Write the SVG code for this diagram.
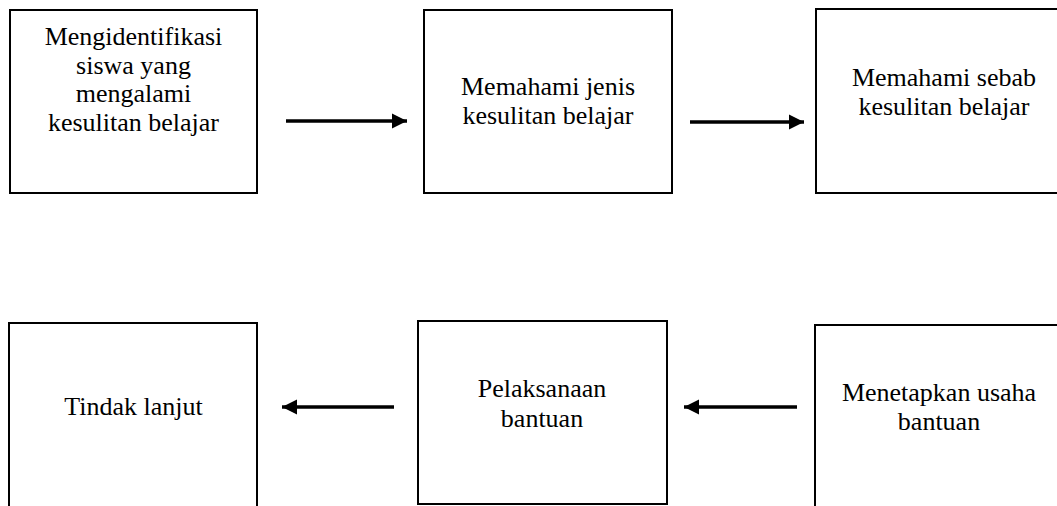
<svg xmlns="http://www.w3.org/2000/svg" width="1057" height="506" viewBox="0 0 1057 506">
<style>
.box{fill:#fff;stroke:#000;stroke-width:2}
text{font-family:'Liberation Serif','Times New Roman','DejaVu Serif',serif;font-size:26px;fill:#000;text-anchor:middle}
.c{stroke:#000;stroke-width:3.5;fill:none}
</style>
<defs>
<marker id="ah" markerUnits="userSpaceOnUse" markerWidth="16" markerHeight="16" viewBox="0 0 16 16" refX="15" refY="8" orient="auto">
<polygon points="0,0.5 15,8 0,15.5" fill="#000"/>
</marker>
</defs>
<rect width="1057" height="506" fill="#fff"/>
<g id="n1"><rect class="box" x="10" y="10" width="247" height="183"/>
<text x="133.5" y="45" font-family="Liberation Serif, serif">Mengidentifikasi</text>
<text x="133.5" y="74" font-family="Liberation Serif, serif">siswa yang</text>
<text x="133.5" y="102" font-family="Liberation Serif, serif">mengalami</text>
<text x="133.5" y="131" font-family="Liberation Serif, serif">kesulitan belajar</text></g>
<g id="n2"><rect class="box" x="424" y="10" width="248" height="183"/>
<text x="548" y="95" font-family="Liberation Serif, serif">Memahami jenis</text>
<text x="548" y="124" font-family="Liberation Serif, serif">kesulitan belajar</text></g>
<g id="n3"><rect class="box" x="816" y="9" width="260" height="184"/>
<text x="944" y="86" font-family="Liberation Serif, serif">Memahami sebab</text>
<text x="944" y="115" font-family="Liberation Serif, serif">kesulitan belajar</text></g>
<g id="n4"><rect class="box" x="9" y="323" width="248" height="200"/>
<text x="133.5" y="415" font-family="Liberation Serif, serif">Tindak lanjut</text></g>
<g id="n5"><rect class="box" x="418" y="321" width="249" height="183"/>
<text x="542" y="397" font-family="Liberation Serif, serif">Pelaksanaan</text>
<text x="542" y="427" font-family="Liberation Serif, serif">bantuan</text></g>
<g id="n6"><rect class="box" x="815" y="325" width="260" height="200"/>
<text x="939" y="401" font-family="Liberation Serif, serif">Menetapkan usaha</text>
<text x="939" y="430" font-family="Liberation Serif, serif">bantuan</text></g>
<g id="connectors">
<line class="c" x1="286" y1="121" x2="407" y2="121" marker-end="url(#ah)"/>
<line class="c" x1="690" y1="122" x2="804" y2="122" marker-end="url(#ah)"/>
<line class="c" x1="394" y1="407" x2="282" y2="407" marker-end="url(#ah)"/>
<line class="c" x1="797" y1="407" x2="684" y2="407" marker-end="url(#ah)"/>
</g>
</svg>
